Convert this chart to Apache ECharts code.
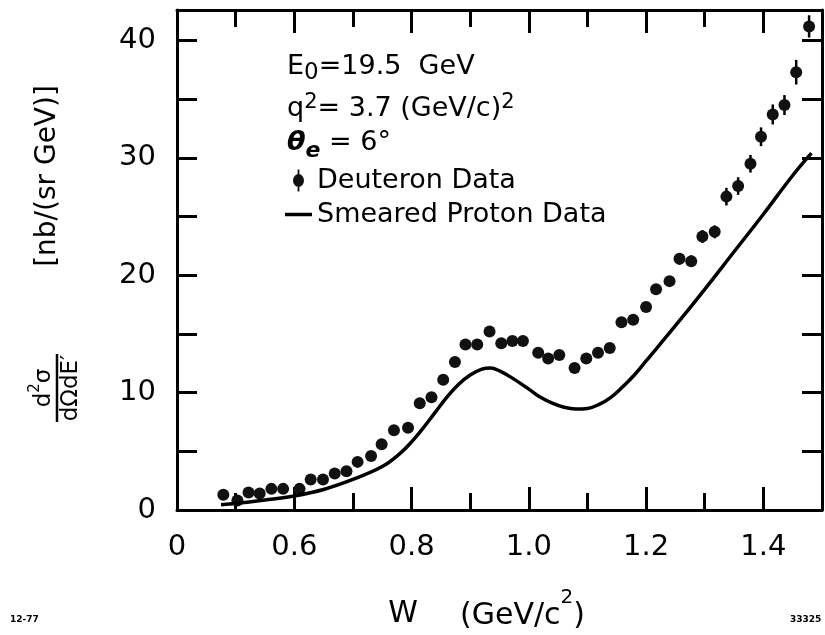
<!DOCTYPE html>
<html>
<head>
<meta charset="utf-8">
<title>Deuteron data vs smeared proton data</title>
<script src="https://cdn.jsdelivr.net/npm/echarts@6/dist/echarts.min.js"></script>
<style>
  html, body { margin: 0; padding: 0; background: #fff; }
  #chart { width: 825px; height: 635px; }
</style>
</head>
<body>
<div id="chart"></div>
<script>
// deuteron points: W (GeV/c^2), cross section, error
const deutW = [0.479, 0.503, 0.522, 0.541, 0.561, 0.581, 0.609, 0.628, 0.649, 0.669,
  0.689, 0.708, 0.731, 0.749, 0.770, 0.794, 0.814, 0.834, 0.854, 0.874,
  0.892, 0.912, 0.933, 0.953, 0.972, 0.990, 1.016, 1.033, 1.052, 1.078,
  1.098, 1.118, 1.138, 1.158, 1.178, 1.200, 1.217, 1.240, 1.257, 1.277,
  1.296, 1.317, 1.337, 1.357, 1.378, 1.396, 1.416, 1.436, 1.456, 1.478]
const deutVal = [1.3, 0.8, 1.5, 1.4, 1.8, 1.8, 1.8, 2.6, 2.6, 3.1,
  3.3, 4.1, 4.6, 5.6, 6.8, 7.0, 9.1, 9.6, 11.1, 12.6,
  14.1, 14.1, 15.2, 14.2, 14.4, 14.4, 13.4, 12.9, 13.2, 12.1,
  12.9, 13.4, 13.8, 16.0, 16.2, 17.3, 18.8, 19.5, 21.4, 21.2,
  23.3, 23.7, 26.7, 27.6, 29.5, 31.8, 33.7, 34.5, 37.3, 41.2]
const deutErr = [0.3, 0.3, 0.3, 0.3, 0.3, 0.3, 0.3, 0.3, 0.3, 0.3,
  0.3, 0.3, 0.3, 0.3, 0.3, 0.3, 0.3, 0.3, 0.3, 0.3,
  0.3, 0.3, 0.3, 0.3, 0.3, 0.3, 0.3, 0.3, 0.3, 0.3,
  0.3, 0.3, 0.3, 0.3, 0.3, 0.3, 0.4, 0.4, 0.5, 0.5,
  0.55, 0.55, 0.75, 0.75, 0.75, 0.8, 0.85, 0.85, 1.05, 0.95]

// smeared proton curve
const protonW = [0.475, 0.50, 0.55, 0.60, 0.65, 0.70, 0.75, 0.78, 0.80, 0.82,
  0.84, 0.86, 0.88, 0.90, 0.92, 0.935, 0.95, 0.97, 1.00, 1.02,
  1.04, 1.06, 1.08, 1.10, 1.12, 1.14, 1.16, 1.18, 1.20, 1.25,
  1.30, 1.35, 1.40, 1.45, 1.482]
const protonVal = [0.45, 0.55, 0.85, 1.2, 1.75, 2.6, 3.7, 4.8, 5.8, 7.0,
  8.3, 9.6, 10.7, 11.5, 12.0, 12.1, 11.85, 11.3, 10.3, 9.6,
  9.1, 8.75, 8.6, 8.65, 9.0, 9.6, 10.5, 11.5, 12.7, 15.7,
  18.8, 22.0, 25.2, 28.5, 30.4]

// tick labels (the axis is broken, first tick reads "0")
const xTickValues = [0.4, 0.6, 0.8, 1.0, 1.2, 1.4]
const xTickLabels = ['0', '0.6', '0.8', '1.0', '1.2', '1.4']
const yTickValues = [0, 10, 20, 30, 40]
const yTickLabels = ['0', '10', '20', '30', '40']

const FONT = 'DejaVu Sans'
const INK = '#000'

function tickLabel(values, labels, v) {
  for (let i = 0; i < values.length; i++) {
    if (Math.abs(values[i] - v) < 1e-6) return labels[i]
  }
  return ''
}

const frame = { show: true, lineStyle: { color: INK, width: 3 } }
const tick = (len) => ({ show: true, inside: true, length: len, lineStyle: { color: INK, width: 3 } })

function xAxis(position, interval, len, main) {
  return {
    type: 'value',
    position: position,
    min: 0.4,
    max: 1.5,
    interval: interval,
    axisLine: main ? frame : { show: false },
    axisTick: tick(len),
    axisLabel: {
      show: main && position === 'bottom',
      margin: 23,
      fontSize: 29,
      fontFamily: FONT,
      color: INK,
      formatter: v => tickLabel(xTickValues, xTickLabels, v)
    },
    splitLine: { show: false }
  }
}

function yAxis(position) {
  return {
    type: 'value',
    position: position,
    min: 0,
    max: 42.6,
    interval: 5,
    axisLine: frame,
    axisTick: tick(20),
    axisLabel: {
      show: position === 'left',
      margin: 21,
      fontSize: 29,
      fontFamily: FONT,
      color: INK,
      formatter: v => tickLabel(yTickValues, yTickLabels, v)
    },
    splitLine: { show: false }
  }
}

// rich text pieces for sub/superscripts
const rich = {
  m: { fontSize: 27, fontFamily: FONT, fill: INK, lineHeight: 27, verticalAlign: 'top' },
  sub: { fontSize: 23, fontFamily: FONT, fill: INK, lineHeight: 31.5, verticalAlign: 'bottom' },
  mb: { fontSize: 27, fontFamily: FONT, fill: INK, lineHeight: 30.5, verticalAlign: 'bottom' },
  sup: { fontSize: 21, fontFamily: FONT, fill: INK, lineHeight: 21, verticalAlign: 'top' },
  it: { fontSize: 27, fontFamily: FONT, fontStyle: 'italic', fontWeight: 'bold', fill: INK, lineHeight: 27, verticalAlign: 'top' },
  ite: { fontSize: 22, fontFamily: FONT, fontStyle: 'italic', fontWeight: 'bold', fill: INK, lineHeight: 32.5, verticalAlign: 'bottom' },
  w: { fontSize: 30, fontFamily: FONT, fill: INK, lineHeight: 43, verticalAlign: 'bottom' },
  wsup: { fontSize: 20, fontFamily: FONT, fill: INK, lineHeight: 20, verticalAlign: 'top' },
  fd: { fontSize: 23, fontFamily: FONT, fill: INK, lineHeight: 28, verticalAlign: 'bottom' },
  fsup: { fontSize: 15, fontFamily: FONT, fill: INK, lineHeight: 15, verticalAlign: 'top' }
}

const chart = echarts.init(document.getElementById('chart'))

chart.setOption({
  animation: false,
  backgroundColor: '#fff',
  grid: { left: 177, right: 3, top: 10, bottom: 125, containLabel: false },
  xAxis: [
    xAxis('bottom', 0.2, 23, true),
    xAxis('bottom', 0.1, 17, false),
    xAxis('top', 0.2, 23, true),
    xAxis('top', 0.1, 17, false)
  ],
  yAxis: [yAxis('left'), yAxis('right')],
  legend: {
    orient: 'vertical',
    left: 280,
    top: 162,
    itemWidth: 27,
    itemHeight: 22,
    itemGap: 7,
    selectedMode: false,
    textStyle: { fontSize: 27, fontFamily: FONT, color: INK, lineHeight: 27 },
    data: [
      { name: 'Deuteron Data', icon: 'path://M5,0L7,0L7,24L5,24Z M0,12A6,7,0,1,1,12,12A6,7,0,1,1,0,12Z' },
      { name: 'Smeared Proton Data', icon: 'path://M0,0L27,0L27,3.5L0,3.5Z' }
    ]
  },
  series: [
    {
      name: 'Smeared Proton Data',
      type: 'line',
      xAxisIndex: 0,
      yAxisIndex: 0,
      smooth: 0.4,
      symbol: 'none',
      lineStyle: { color: INK, width: 3.5 },
      itemStyle: { color: INK },
      data: protonW.map((w, i) => [w, protonVal[i]])
    },
    {
      name: 'errors',
      type: 'custom',
      xAxisIndex: 0,
      yAxisIndex: 0,
      encode: { x: 0, y: [1, 2] },
      renderItem: function(params, api) {
        const a = api.coord([api.value(0), api.value(1)])
        const b = api.coord([api.value(0), api.value(2)])
        return {
          type: 'line',
          shape: { x1: a[0], y1: a[1], x2: b[0], y2: b[1] },
          style: { stroke: INK, lineWidth: 2.5 }
        }
      },
      data: deutW.map((w, i) => [w, deutVal[i] - deutErr[i], deutVal[i] + deutErr[i]])
    },
    {
      name: 'Deuteron Data',
      type: 'scatter',
      xAxisIndex: 0,
      yAxisIndex: 0,
      symbol: 'circle',
      symbolSize: 12,
      itemStyle: { color: '#111', opacity: 1 },
      data: deutW.map((w, i) => [w, deutVal[i]])
    }
  ],
  graphic: [
    { type: 'text', x: 287, y: 53.5, style: { text: '{m|E}{sub|0}{m|=19.5  GeV}', rich: rich, verticalAlign: 'top' } },
    { type: 'text', x: 287, y: 92, style: { text: '{mb|q}{sup|2}{mb|= 3.7 (GeV/c)}{sup|2}', rich: rich, verticalAlign: 'top' } },
    { type: 'text', x: 287, y: 129.5, style: { text: '{it|θ}{ite|e}{m| = 6°}', rich: rich, verticalAlign: 'top' } },
    // x axis title
    { type: 'text', x: 403, y: 614, style: { text: 'W', font: '30px "DejaVu Sans"', fill: INK, align: 'center', verticalAlign: 'middle' } },
    { type: 'text', x: 460, y: 588, style: { text: '{w|(GeV/c}{wsup|2}{w|)}', rich: rich, verticalAlign: 'top' } },
    // y axis title
    { type: 'text', x: 48, y: 176, rotation: Math.PI / 2, style: { text: '[nb/(sr GeV)]', font: '28px "DejaVu Sans"', fill: INK, align: 'center', verticalAlign: 'middle' } },
    {
      type: 'group',
      x: 57,
      y: 388,
      rotation: Math.PI / 2,
      children: [
        { type: 'line', shape: { x1: -34, y1: 0, x2: 34, y2: 0 }, style: { stroke: INK, lineWidth: 2.5 } },
        { type: 'text', x: 0, y: -1, style: { text: '{fd|d}{fsup|2}{fd|σ}', rich: rich, align: 'center', verticalAlign: 'bottom' } },
        { type: 'text', x: 0, y: 3, style: { text: 'dΩdE′', font: '23px "DejaVu Sans"', fill: INK, align: 'center', verticalAlign: 'top' } }
      ]
    },
    // plate numbers
    { type: 'text', x: 10, y: 620, style: { text: '12-77', font: 'bold 9px "DejaVu Sans"', fill: INK, verticalAlign: 'middle' } },
    { type: 'text', x: 790, y: 620, style: { text: '33325', font: 'bold 9px "DejaVu Sans"', fill: INK, verticalAlign: 'middle' } }
  ]
})
</script>
</body>
</html>
